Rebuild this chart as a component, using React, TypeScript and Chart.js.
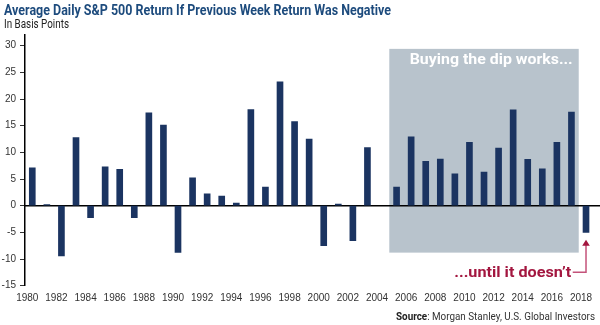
import React, { useEffect, useRef } from "react";
import { Chart, registerables } from "chart.js";

Chart.register(...registerables);

const years = [
  "1980", "1981", "1982", "1983", "1984", "1985", "1986", "1987", "1988", "1989",
  "1990", "1991", "1992", "1993", "1994", "1995", "1996", "1997", "1998", "1999",
  "2000", "2001", "2002", "2003", "2004", "2005", "2006", "2007", "2008", "2009",
  "2010", "2011", "2012", "2013", "2014", "2015", "2016", "2017", "2018",
];

const returnsBp = [
  7.1, 0.2, -9.4, 12.75, -2.25, 7.3, 6.8, -2.25, 17.4, 15.1,
  -8.75, 5.2, 2.2, 1.8, 0.5, 18.0, 3.5, 23.2, 15.75, 12.5,
  -7.5, 0.3, -6.55, 10.9, null, 3.5, 12.9, 8.3, 8.75, 5.95,
  11.9, 6.3, 10.8, 17.95, 8.7, 6.9, 11.9, 17.55, -5.0,
];

const yTicks = [-15, -10, -5, 0, 5, 10, 15, 20, 25, 30];

const titleText = "Average Daily S&P 500 Return If Previous Week Return Was Negative";
const subtitleText = "In Basis Points";
const sourceLabel = "Source";
const sourceText = ": Morgan Stanley, U.S. Global Investors";
const boxLabel = "Buying the dip works...";
const arrowLabel = "...until it doesn\u2019t";

// highlight region (category indices and value range)
const boxFromIndex = 25;
const boxToIndex = 37;
const boxTop = 29.4;
const boxBottom = -8.8;
const boxLabelValue = 26.6;
const arrowTipValue = -6.4;
const arrowElbowValue = -12.5;
const arrowLabelValue = -13.45;
const arrowIndex = 38;

const FONT = "Roboto, 'Liberation Sans', Arial, sans-serif";
const TICK_FONT = "'Liberation Sans', Arial, sans-serif";

type Part = { text: string; font: string; color: string };

function drawFit(
  ctx: CanvasRenderingContext2D,
  parts: Part[],
  x: number,
  y: number,
  width: number,
  align: "left" | "right"
) {
  ctx.save();
  ctx.textBaseline = "alphabetic";
  ctx.textAlign = "left";
  let total = 0;
  const widths = parts.map((p) => {
    ctx.font = p.font;
    const w = ctx.measureText(p.text).width;
    total += w;
    return w;
  });
  const s = width / total;
  const start = align === "right" ? x - width : x;
  ctx.translate(start, y);
  ctx.scale(s, 1);
  let cx = 0;
  parts.forEach((p, i) => {
    ctx.font = p.font;
    ctx.fillStyle = p.color;
    ctx.fillText(p.text, cx, 0);
    cx += widths[i];
  });
  ctx.restore();
}

const annotationPlugin = {
  id: "annotations",
  beforeDatasetsDraw(chart: any) {
    const { ctx, scales, chartArea } = chart;
    const x = scales.x;
    const y = scales.y;
    const half = (x.getPixelForValue(1) - x.getPixelForValue(0)) / 2;
    const left = x.getPixelForValue(boxFromIndex) - half;
    const right = x.getPixelForValue(boxToIndex) + half;
    const top = y.getPixelForValue(boxTop);
    const bottom = y.getPixelForValue(boxBottom);
    ctx.save();
    ctx.fillStyle = "#b8c3cc";
    ctx.fillRect(left, top, right - left, bottom - top);
    const zy = y.getPixelForValue(0);
    ctx.strokeStyle = "#000";
    ctx.lineWidth = 1.5;
    ctx.beginPath();
    ctx.moveTo(chartArea.left, zy);
    ctx.lineTo(chart.width, zy);
    ctx.stroke();
    ctx.restore();
  },
  afterDatasetsDraw(chart: any) {
    const { ctx, scales } = chart;
    const x = scales.x;
    const y = scales.y;
    const half = (x.getPixelForValue(1) - x.getPixelForValue(0)) / 2;
    const right = x.getPixelForValue(boxToIndex) + half;

    drawFit(
      ctx,
      [{ text: boxLabel, font: `bold 14px ${FONT}`, color: "#ffffff" }],
      right - 6,
      y.getPixelForValue(boxLabelValue),
      163,
      "right"
    );

    const ax = x.getPixelForValue(arrowIndex);
    const tipY = y.getPixelForValue(arrowTipValue);
    const elbowY = y.getPixelForValue(arrowElbowValue);
    ctx.save();
    ctx.strokeStyle = "#c4537a";
    ctx.lineWidth = 1.5;
    ctx.beginPath();
    ctx.moveTo(right - 6, elbowY);
    ctx.lineTo(ax, elbowY);
    ctx.lineTo(ax, tipY + 5);
    ctx.stroke();
    ctx.fillStyle = "#a3163f";
    ctx.beginPath();
    ctx.moveTo(ax, tipY);
    ctx.lineTo(ax - 3.8, tipY + 6);
    ctx.lineTo(ax + 3.8, tipY + 6);
    ctx.closePath();
    ctx.fill();
    ctx.restore();

    drawFit(
      ctx,
      [{ text: arrowLabel, font: `bold 14px ${FONT}`, color: "#a3163f" }],
      right - 7.5,
      y.getPixelForValue(arrowLabelValue),
      117,
      "right"
    );
  },
  afterDraw(chart: any) {
    const { ctx } = chart;
    drawFit(ctx, [{ text: titleText, font: `bold 15px ${FONT}`, color: "#1d4b7d" }], 4, 14.5, 387, "left");
    drawFit(ctx, [{ text: subtitleText, font: `12px ${FONT}`, color: "#222222" }], 4, 28, 65, "left");
    drawFit(
      ctx,
      [
        { text: sourceLabel, font: `bold 11px ${FONT}`, color: "#222222" },
        { text: sourceText, font: `11px ${FONT}`, color: "#333333" },
      ],
      595,
      320,
      199,
      "right"
    );
  },
};

export default function App() {
  const ref = useRef<HTMLCanvasElement | null>(null);

  useEffect(() => {
    document.body.style.margin = "0";
    const canvas = ref.current;
    if (!canvas) return;
    const chart = new Chart(canvas, {
      type: "bar",
      data: {
        labels: years,
        datasets: [
          {
            data: returnsBp as any,
            backgroundColor: "#1b3461",
            borderWidth: 0,
            barThickness: 6,
          },
        ],
      },
      options: {
        animation: false,
        responsive: false,
        devicePixelRatio: 1,
        layout: { padding: { top: 35, right: 6.7, bottom: 0, left: 0 } },
        plugins: {
          legend: { display: false },
          title: { display: false },
          tooltip: { enabled: false },
        },
        scales: {
          x: {
            grid: { display: false, drawTicks: false },
            border: { display: false },
            ticks: {
              autoSkip: false,
              maxRotation: 0,
              minRotation: 0,
              padding: 7,
              labelOffset: -5,
              color: "#333333",
              font: { family: TICK_FONT, size: 10 },
              callback: (_v: any, i: number) => (Number(years[i]) % 2 === 0 ? years[i] : ""),
            },
            afterFit: (s: any) => {
              s.height = 39.3;
              s.paddingLeft = 0;
              s.paddingRight = 0;
            },
          },
          y: {
            min: -15,
            max: 32,
            afterBuildTicks: (s: any) => {
              s.ticks = yTicks.map((v) => ({ value: v }));
            },
            border: { display: true, color: "#000000", width: 1.5 },
            grid: {
              drawOnChartArea: false,
              drawTicks: true,
              tickLength: 5,
              color: "#333333",
              lineWidth: 1,
            },
            ticks: {
              color: "#333333",
              padding: 4,
              font: { family: TICK_FONT, size: 10 },
            },
            afterFit: (s: any) => {
              s.width = 25;
              s.paddingTop = 0;
              s.paddingBottom = 0;
            },
          },
        },
      },
      plugins: [annotationPlugin],
    });
    return () => chart.destroy();
  }, []);

  return (
    <div style={{ width: 600, height: 325, background: "#ffffff" }}>
      <canvas ref={ref} width={600} height={325} style={{ width: 600, height: 325, display: "block" }} />
    </div>
  );
}
